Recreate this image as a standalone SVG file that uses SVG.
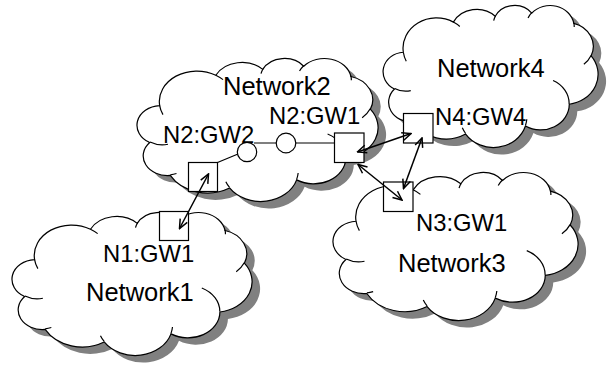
<svg xmlns="http://www.w3.org/2000/svg" xmlns:xlink="http://www.w3.org/1999/xlink" width="612" height="367" viewBox="0 0 612 367">
  <style>
    text { font-family: "Liberation Sans", Arial, sans-serif; fill: #000; }
    .net { font-size: 25.5px; }
    .label { font-size: 23.8px; }
    .shadow { fill: #808080; stroke: none; }
    .cloud { fill: #fff; stroke: #000; stroke-width: 1.2; }
    .cloud-lines { stroke: #000; stroke-width: 1.2; }
    .gw { fill: #fff; stroke: #000; stroke-width: 1.2; }
    .port { fill: #fff; stroke: #000; stroke-width: 1.2; }
    .wire { fill: none; stroke: #000; stroke-width: 1.2; }
    .link { fill: none; stroke: #000; stroke-width: 1.5; marker-start: url(#head); marker-end: url(#head); }
  </style>
  <defs>
    <!-- cloud outline in a 100 x 100 box -->
    <path id="cloud-outline" vector-effect="non-scaling-stroke"
      d="M9.03 33.26 A15.63 21.27 0 0 1 32.42 12.04 A12.35 16.82 0 0 1 51.98 7.95 A10.10 13.76 0 0 1 69.06 5.75 A11.24 15.27 0 0 1 88.70 12.91 A12.35 16.84 0 0 1 96.80 35.79 A15.68 21.34 0 0 1 86.58 69.91 A13.39 18.21 0 0 1 66.10 85.22 A15.63 21.33 0 0 1 38.15 90.89 A17.87 24.41 0 0 1 13.44 82.10 A10.09 13.70 0 0 1 4.89 59.13 A10.06 13.76 0 0 1 9.03 33.26 Z"/>
    <!-- inner fold strokes of the cloud -->
    <path id="cloud-folds" vector-effect="non-scaling-stroke" fill="none"
      d="M12.50 60.30 A10.06 13.76 0 0 1 5.00 58.75 M16.04 80.79 A10.09 13.70 0 0 1 13.47 81.67 M38.14 90.49 A15.63 21.33 0 0 1 36.60 86.46 M66.73 80.44 A15.63 21.33 0 0 1 66.11 84.86 M79.00 53.13 A13.39 18.21 0 0 1 86.53 69.65 M96.76 35.54 A12.35 16.84 0 0 1 93.40 41.74 M88.71 12.56 A11.24 15.27 0 0 1 88.89 15.49 M67.31 9.15 A11.24 15.27 0 0 1 69.03 5.42 M51.25 10.93 A10.10 13.76 0 0 1 52.08 7.71 M32.41 12.02 A15.63 21.27 0 0 1 35.42 15.14 M10.40 39.60 A15.63 21.27 0 0 1 9.03 33.27"/>
    <marker id="head" viewBox="-10 -5 11 10" refX="0" refY="0" markerWidth="11" markerHeight="10" markerUnits="userSpaceOnUse" orient="auto-start-reverse">
      <path d="M-9 -4 L0 0 L-9 4" fill="none" stroke="#000" stroke-width="1.5"/>
    </marker>
  </defs>

  <!-- Network1 -->
  <g id="network1">
    <use xlink:href="#cloud-outline" class="shadow" transform="translate(21 219) scale(2.39 1.43)"/>
    <use xlink:href="#cloud-outline" class="cloud" transform="translate(13 212) scale(2.39 1.43)"/>
    <use xlink:href="#cloud-folds" class="cloud-lines" transform="translate(13 212) scale(2.39 1.43)"/>
    <text class="net" x="86" y="301">Network1</text>
  </g>

  <!-- Network2 -->
  <g id="network2">
    <use xlink:href="#cloud-outline" class="shadow" transform="translate(146 65) scale(2.40 1.43)"/>
    <use xlink:href="#cloud-outline" class="cloud" transform="translate(138 58) scale(2.40 1.43)"/>
    <use xlink:href="#cloud-folds" class="cloud-lines" transform="translate(138 58) scale(2.40 1.43)"/>
    <text class="net" x="223" y="95">Network2</text>
  </g>

  <!-- Network4 -->
  <g id="network4">
    <use xlink:href="#cloud-outline" class="shadow" transform="translate(392 12) scale(2.14 1.42)"/>
    <use xlink:href="#cloud-outline" class="cloud" transform="translate(384 5) scale(2.14 1.42)"/>
    <use xlink:href="#cloud-folds" class="cloud-lines" transform="translate(384 5) scale(2.14 1.42)"/>
    <text class="net" x="437" y="77">Network4</text>
  </g>

  <!-- Network3 -->
  <g id="network3">
    <use xlink:href="#cloud-outline" class="shadow" transform="translate(342 179) scale(2.44 1.48)"/>
    <use xlink:href="#cloud-outline" class="cloud" transform="translate(334 172) scale(2.44 1.48)"/>
    <use xlink:href="#cloud-folds" class="cloud-lines" transform="translate(334 172) scale(2.44 1.48)"/>
    <text class="net" x="398" y="272">Network3</text>
  </g>

  <!-- internal wiring of Network2 -->
  <g id="n2-wiring">
    <path class="wire" d="M217.5 162.5 L238 154 M254 143 H334.5"/>
  </g>
  <g id="n2-port1">
    <circle class="port" cx="247" cy="152" r="9.7"/>
  </g>
  <g id="n2-port2">
    <circle class="port" cx="286" cy="143" r="9.8"/>
  </g>

  <!-- gateways -->
  <g id="n2-gw2">
    <rect class="gw" x="188.5" y="162.5" width="29" height="29"/>
    <text class="label" x="163" y="142.5">N2:GW2</text>
  </g>
  <g id="n2-gw1">
    <rect class="gw" x="334.5" y="133" width="29.5" height="29.5"/>
    <text class="label" x="269" y="123.5">N2:GW1</text>
  </g>
  <g id="n4-gw4">
    <rect class="gw" x="403.5" y="113.5" width="29.5" height="29.5"/>
    <text class="label" x="435" y="125">N4:GW4</text>
  </g>
  <g id="n3-gw1">
    <rect class="gw" x="383.5" y="182" width="29.5" height="29.5"/>
    <text class="label" x="416" y="231">N3:GW1</text>
  </g>
  <g id="n1-gw1">
    <rect class="gw" x="159.5" y="211.5" width="29" height="29"/>
    <text class="label" x="103" y="262">N1:GW1</text>
  </g>

  <!-- gateway links -->
  <g id="connectors">
    <line class="link" x1="179.5" y1="228.5" x2="208.5" y2="174"/>
    <line class="link" x1="357.5" y1="152" x2="411" y2="133.5"/>
    <line class="link" x1="358" y1="164.5" x2="402" y2="200"/>
    <line class="link" x1="422" y1="138" x2="403.5" y2="188.5"/>
  </g>
</svg>
